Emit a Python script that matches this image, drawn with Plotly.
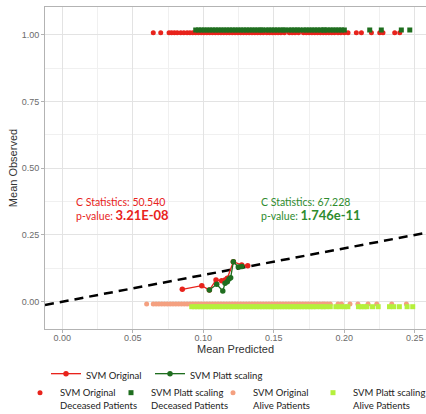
import plotly.graph_objects as go

# ---------------- data ----------------
# calibration curves (mean predicted, mean observed)
orig_pred = [0.0851, 0.0989, 0.1043, 0.1090, 0.1130, 0.1154, 0.1170, 0.1213, 0.1272, 0.1315]
orig_obs = [0.0464, 0.0599, 0.0438, 0.0813, 0.0787, 0.0813, 0.0876, 0.1498, 0.1375, 0.1348]
platt_pred = [0.1043, 0.1095, 0.1138, 0.1154, 0.1170, 0.1182, 0.1194, 0.1213, 0.1248, 0.1274]
platt_obs = [0.0438, 0.0652, 0.0401, 0.0689, 0.0749, 0.0850, 0.0899, 0.1498, 0.1300, 0.1320]

# predicted probabilities of individual patients (rug rows)
dec_orig_x = [0.0645, 0.0698, 0.0757, 0.0775, 0.0795, 0.0815, 0.0840, 0.0862, 0.0885, 0.0905,
              0.0925, 0.0945, 0.0965, 0.0985, 0.1005, 0.1025, 0.1045, 0.1065, 0.1085, 0.1105,
              0.1125, 0.1145, 0.1165, 0.1185, 0.1205, 0.1225, 0.1245, 0.1265, 0.1285, 0.1305,
              0.1325, 0.1345, 0.1365, 0.1385, 0.1405, 0.1425, 0.1450, 0.1470, 0.1490, 0.1510,
              0.1530, 0.1550, 0.1575, 0.1610, 0.1630, 0.1650, 0.1675, 0.1710, 0.1730, 0.1750,
              0.1770, 0.1790, 0.1810, 0.1830, 0.1850, 0.1870, 0.1890, 0.1910, 0.1930, 0.1955,
              0.1975, 0.2000, 0.2026, 0.2085, 0.2121, 0.2192, 0.2251, 0.2274, 0.2357, 0.2393]
dec_platt_x = [0.0946, 0.0966, 0.0986, 0.1006, 0.1026, 0.1046, 0.1066, 0.1086, 0.1106, 0.1126,
               0.1146, 0.1166, 0.1186, 0.1206, 0.1226, 0.1246, 0.1266, 0.1286, 0.1306, 0.1326,
               0.1346, 0.1366, 0.1386, 0.1406, 0.1420, 0.1445, 0.1465, 0.1485, 0.1505, 0.1525,
               0.1545, 0.1565, 0.1580, 0.1607, 0.1627, 0.1647, 0.1667, 0.1685, 0.1710, 0.1730,
               0.1750, 0.1770, 0.1790, 0.1810, 0.1830, 0.1850, 0.1860, 0.1880, 0.1900, 0.1920,
               0.1940, 0.1960, 0.1980, 0.2000, 0.2180, 0.2262, 0.2404, 0.2464]
alive_orig_x = [0.0598, 0.0645, 0.0665, 0.0685, 0.0705, 0.0725, 0.0745, 0.0765, 0.0785, 0.0805,
                0.0825, 0.0845, 0.0865, 0.0885, 0.0905, 0.0925, 0.0945, 0.0965, 0.0985, 0.1005,
                0.1025, 0.1045, 0.1065, 0.1085, 0.1105, 0.1125, 0.1145, 0.1165, 0.1185, 0.1205,
                0.1225, 0.1245, 0.1265, 0.1285, 0.1305, 0.1325, 0.1345, 0.1365, 0.1385, 0.1405,
                0.1425, 0.1445, 0.1465, 0.1485, 0.1505, 0.1525, 0.1545, 0.1565, 0.1585, 0.1605,
                0.1625, 0.1645, 0.1665, 0.1685, 0.1705, 0.1725, 0.1745, 0.1765, 0.1785, 0.1805,
                0.1825, 0.1845, 0.1860, 0.1880, 0.1900, 0.1955, 0.1980, 0.2040, 0.2096, 0.2168,
                0.2230, 0.2336, 0.2440]
alive_platt_x = [0.0918, 0.0938, 0.0958, 0.0978, 0.0998, 0.1018, 0.1038, 0.1058, 0.1078, 0.1098,
                 0.1118, 0.1138, 0.1158, 0.1178, 0.1198, 0.1218, 0.1238, 0.1258, 0.1278, 0.1298,
                 0.1318, 0.1338, 0.1358, 0.1378, 0.1398, 0.1418, 0.1438, 0.1458, 0.1478, 0.1498,
                 0.1518, 0.1538, 0.1558, 0.1578, 0.1598, 0.1618, 0.1638, 0.1658, 0.1678, 0.1698,
                 0.1718, 0.1738, 0.1758, 0.1778, 0.1800, 0.1830, 0.1850, 0.1870, 0.1900, 0.1940,
                 0.1970, 0.2000, 0.2025, 0.2100, 0.2120, 0.2140, 0.2160, 0.2200, 0.2240, 0.2320,
                 0.2350, 0.2390, 0.2445, 0.2485]

# rug-row heights (jittered around 0 and 1)
dec_orig_y = 1.0075
dec_platt_y = 1.0176
alive_orig_y = -0.0086
alive_platt_y = -0.0187

x_tick_vals = [0.00, 0.05, 0.10, 0.15, 0.20, 0.25]
x_tick_text = ["0.00", "0.05", "0.10", "0.15", "0.20", "0.25"]
y_tick_vals = [0.00, 0.25, 0.50, 0.75, 1.00]
y_tick_text = ["0.00", "0.25", "0.50", "0.75", "1.00"]

x_range = [-0.01227, 0.2579]
y_range = [-0.1022, 1.1037]

# ---------------- colours ----------------
RED = "#e8231c"
DGREEN = "#1f6e1f"
SALMON = "#f4a080"
LGREEN = "#b5f03c"
TXT_GREEN = "#2e8b2e"

fig = go.Figure()

# alive rows
fig.add_trace(go.Scatter(x=alive_orig_x, y=[alive_orig_y] * len(alive_orig_x), mode="markers",
                         marker=dict(color=SALMON, size=5, symbol="circle"),
                         name="SVM Original<br>Alive Patients", legend="legend5"))
fig.add_trace(go.Scatter(x=alive_platt_x, y=[alive_platt_y] * len(alive_platt_x), mode="markers",
                         marker=dict(color=LGREEN, size=5, symbol="square"),
                         name="SVM Platt scaling<br>Alive Patients", legend="legend6"))
# deceased rows
fig.add_trace(go.Scatter(x=dec_orig_x, y=[dec_orig_y] * len(dec_orig_x), mode="markers",
                         marker=dict(color=RED, size=5, symbol="circle"),
                         name="SVM Original<br>Deceased Patients", legend="legend3"))
fig.add_trace(go.Scatter(x=dec_platt_x, y=[dec_platt_y] * len(dec_platt_x), mode="markers",
                         marker=dict(color=DGREEN, size=5, symbol="square"),
                         name="SVM Platt scaling<br>Deceased Patients", legend="legend4"))

# diagonal reference line (y = x across the panel)
fig.add_trace(go.Scatter(x=x_range, y=x_range, mode="lines",
                         line=dict(color="black", width=2.5, dash="9px,6px"),
                         showlegend=False, hoverinfo="skip"))

# calibration curves
fig.add_trace(go.Scatter(x=orig_pred, y=orig_obs, mode="lines+markers",
                         line=dict(color=RED, width=1.3), marker=dict(color=RED, size=5.5),
                         name="SVM Original", legend="legend"))
fig.add_trace(go.Scatter(x=platt_pred, y=platt_obs, mode="lines+markers",
                         line=dict(color=DGREEN, width=1.3), marker=dict(color=DGREEN, size=5.5),
                         name="SVM Platt scaling", legend="legend2"))

# annotations
ann_font = "Lato"
fig.add_annotation(x=0.0083, y=0.347, xref="x", yref="y", xanchor="left", yanchor="middle",
                   align="left", showarrow=False,
                   text="C Statistics: 50.540<br>p-value: <b><span style='font-size:13px'>3.21E-08</span></b>",
                   font=dict(family=ann_font, size=10.5, color=RED))
fig.add_annotation(x=0.1394, y=0.347, xref="x", yref="y", xanchor="left", yanchor="middle",
                   align="left", showarrow=False,
                   text="C Statistics: 67.228<br>p-value: <b><span style='font-size:13px'>1.746e-11</span></b>",
                   font=dict(family=ann_font, size=10.5, color=TXT_GREEN))

axis_common = dict(
    showline=True, linecolor="#b3b3b3", linewidth=1, mirror=True,
    showgrid=True, gridcolor="#e3e3e3", gridwidth=0.8,
    ticks="outside", ticklen=3, tickcolor="#b3b3b3", tickwidth=1,
    tickfont=dict(family="Liberation Sans, Arial", size=9, color="#6b6b6b"),
    zeroline=False, automargin=False,
)

W, H = 426, 414
leg_font = dict(family="Lato", size=9.5, color="#222222")


def leg(px_left, px_top, **kw):
    d = dict(orientation="h", xref="container", yref="container",
             x=px_left / W, xanchor="left", y=1 - px_top / H, yanchor="top",
             font=leg_font, bgcolor="rgba(0,0,0,0)", valign="top", itemwidth=30)
    d.update(kw)
    return d


fig.update_layout(
    width=W, height=H,
    margin=dict(l=45, r=0, t=7, b=85),
    paper_bgcolor="white", plot_bgcolor="white",
    xaxis=dict(range=x_range, tickvals=x_tick_vals, ticktext=x_tick_text,
               ticklabelstandoff=-3,
               minor=dict(dtick=0.025, tick0=0, showgrid=True, gridcolor="#f0f0f0", gridwidth=0.6, ticks=""),
               title=dict(text="Mean Predicted", standoff=2,
                          font=dict(family="Liberation Sans, Arial", size=11, color="#333333")),
               **axis_common),
    yaxis=dict(range=y_range, tickvals=y_tick_vals, ticktext=y_tick_text,
               minor=dict(dtick=0.125, tick0=0, showgrid=True, gridcolor="#f0f0f0", gridwidth=0.6, ticks=""),
               title=dict(text="Mean Observed", standoff=1,
                          font=dict(family="Liberation Sans, Arial", size=11, color="#333333")),
               **axis_common),
    legend=leg(46, 361),
    legend2=leg(150, 361),
    legend3=leg(20, 380),
    legend4=leg(111, 380),
    legend5=leg(213, 380),
    legend6=leg(313, 380),
    showlegend=True,
)

fig.write_html("out.html")
